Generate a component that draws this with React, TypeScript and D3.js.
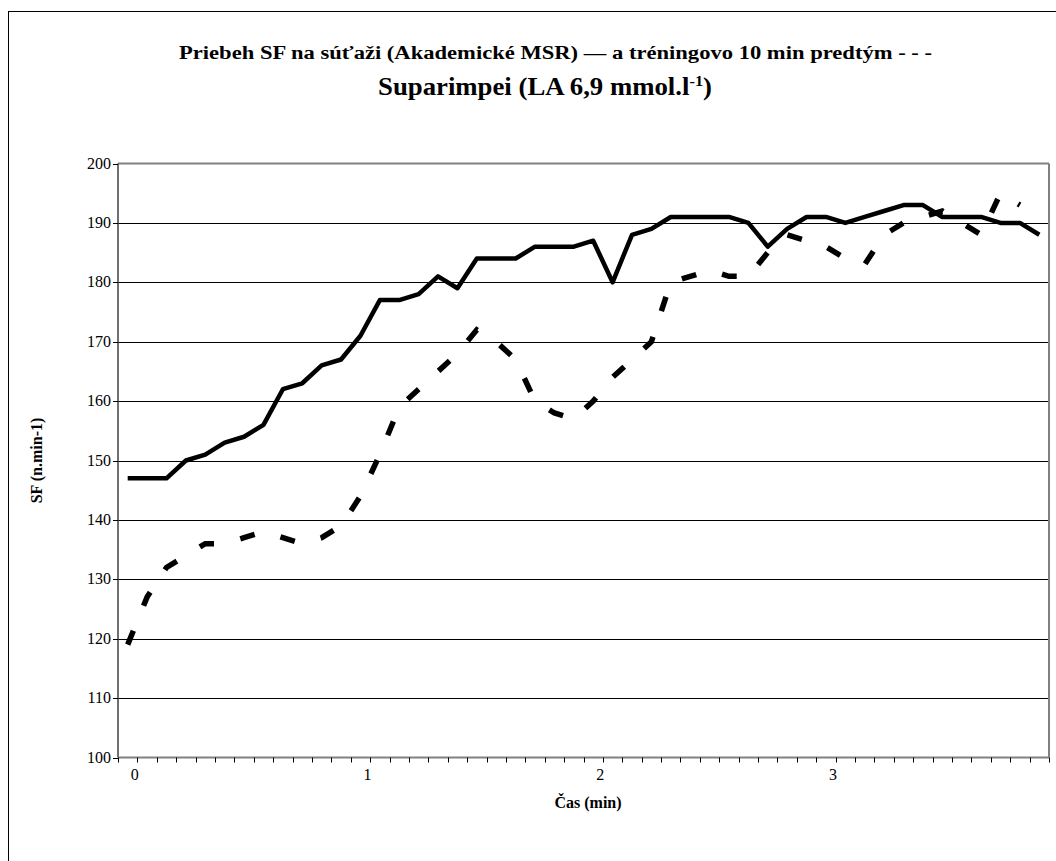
import React from "react";
import * as d3 from "d3";

const categories: number[] = d3.range(48);
const competition: number[] = [147,147,147,150,151,153,154,156,162,163,166,167,171,177,177,178,181,179,184,184,184,186,186,186,187,180,188,189,191,191,191,191,190,186,189,191,191,190,191,192,193,193,191,191,191,190,190,188];
const training: number[] = [119,127,132,134,136,136,137,138,137,136,137,139,144,151,159,162,165,168,172,170,167,160,158,157,160,164,167,170,180,181,182,181,181,185,188,187,186,184,183,188,190,191,192,190,188,195,193];
const yTicks: number[] = [100,110,120,130,140,150,160,170,180,190,200];
const xLabels: { index: number; label: string }[] = [
  { index: 0, label: "0" },
  { index: 12, label: "1" },
  { index: 24, label: "2" },
  { index: 36, label: "3" },
];

const W = 1056, H = 861;
const plot = { left: 118, right: 1049, top: 163.5, bottom: 757.5 };
const serif = "Liberation Serif, Times New Roman, serif";

export default function App() {
  const x = d3.scaleBand<number>().domain(categories).range([plot.left, plot.right]).padding(0);
  const bw = x.bandwidth();
  const cx = (i: number) => (x(i) as number) + bw / 2;
  const y = d3.scaleLinear().domain([100, 200]).range([plot.bottom, plot.top]);
  const line = d3.line<number>().x((_, i) => cx(i)).y((d) => y(d));

  return (
    <svg width={W} height={H} style={{ position: "absolute", left: 0, top: 0, background: "#fff", fontFamily: serif }}>
      <rect x={8.5} y={11.5} width={1200} height={1000} fill="#fff" stroke="#000" strokeWidth={1} />
      <text x={179} y={59} fontWeight="bold" fontSize={18} textLength={753} lengthAdjust="spacingAndGlyphs" style={{ fontFamily: serif }}>
        Priebeh SF na súťaži (Akademické MSR) — a tréningovo 10 min predtým - - -
      </text>
      <text x={378} y={95} fontWeight="bold" fontSize={24.5} textLength={334} lengthAdjust="spacingAndGlyphs" style={{ fontFamily: serif }}>
        Suparimpei (LA 6,9 mmol.l<tspan dy={-9} fontSize={15}>-1</tspan><tspan dy={9}>)</tspan>
      </text>
      {yTicks.filter((t) => t > 100 && t < 200).map((t) => (
        <line key={t} x1={plot.left} x2={plot.right} y1={Math.round(y(t)) + 0.5} y2={Math.round(y(t)) + 0.5} stroke="#000" strokeWidth={1} />
      ))}
      <line x1={plot.left} x2={plot.right} y1={plot.top} y2={plot.top} stroke="#808080" strokeWidth={2} />
      <line x1={plot.right} x2={plot.right} y1={plot.top} y2={plot.bottom} stroke="#808080" strokeWidth={2} />
      <line x1={plot.left} x2={plot.left} y1={plot.top} y2={plot.bottom} stroke="#404040" strokeWidth={1.5} />
      <line x1={plot.left} x2={plot.right} y1={plot.bottom} y2={plot.bottom} stroke="#808080" strokeWidth={2} />
      {yTicks.map((t) => (
        <g key={t}>
          <line x1={plot.left - 5} x2={plot.left} y1={Math.round(y(t)) + 0.5} y2={Math.round(y(t)) + 0.5} stroke="#000" />
          <text x={plot.left - 7} y={y(t) + 5} textAnchor="end" fontSize={16} style={{ fontFamily: serif }}>{t}</text>
        </g>
      ))}
      {categories.concat([48]).map((i) => {
        const xx = Math.round(i < 48 ? (x(i) as number) : plot.right) + 0.5;
        return <line key={i} x1={xx} x2={xx} y1={plot.bottom} y2={plot.bottom + 5} stroke="#000" />;
      })}
      {xLabels.map((l) => (
        <text key={l.index} x={cx(l.index) + 7} y={780} textAnchor="middle" fontSize={16} style={{ fontFamily: serif }}>{l.label}</text>
      ))}
      <text x={588} y={808} textAnchor="middle" fontWeight="bold" fontSize={16} style={{ fontFamily: serif }}>Čas (min)</text>
      <text transform={`translate(42,${(plot.top + plot.bottom) / 2}) rotate(-90)`} textAnchor="middle" fontWeight="bold" fontSize={16} style={{ fontFamily: serif }}>SF (n.min-1)</text>
      <path d={line(training) || ""} fill="none" stroke="#000" strokeWidth={5.5} strokeDasharray="15,27" strokeLinejoin="miter" />
      <path d={line(competition) || ""} fill="none" stroke="#000" strokeWidth={4.5} strokeLinejoin="round" />
    </svg>
  );
}
